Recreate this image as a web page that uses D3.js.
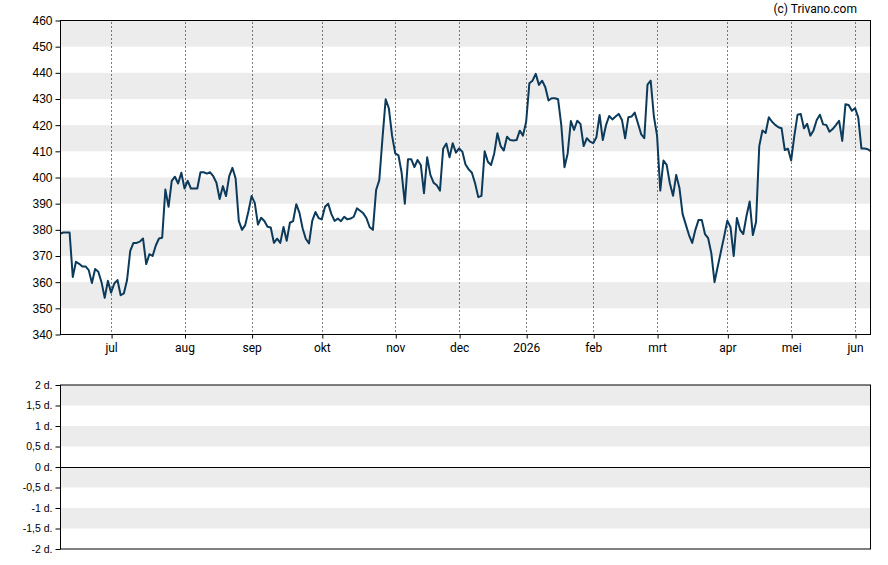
<!DOCTYPE html>
<html><head><meta charset="utf-8">
<script src="https://cdn.jsdelivr.net/npm/d3@7"></script>
<style>body{margin:0;background:#fff}svg{display:block}text{font-family:"Liberation Sans",Arial,sans-serif;fill:#000}</style>
</head><body><svg id="c" width="888" height="565"></svg>
<script>
// daily closes (trading-day index 0..254)
const prices = [
378.5,379,379,379,362,367.8,367,366,366,364.6,359.7,365,364,360,354,360.5,356,359.5,360.8,355,
355.7,360.8,372,375,375,375.5,376.7,366.9,370.7,370,374,376.7,377,395.4,388.8,398.7,400.3,397.7,401.8,395.8,
398.7,395.8,395.8,395.8,402,402,401.5,402,400.5,398,391.8,396.7,392.9,400.5,403.7,399.6,383.4,380,381.8,387,
392.9,390.3,382,384.6,383.4,381.2,380.9,375,376.6,375,381.1,375.8,382.7,383.3,389.8,386.5,380.5,376.5,374.8,383.4,
386.8,384.5,384,388.8,390,386,383.4,384.3,383.3,385,384,384.3,385,388.2,387.3,386.3,384.4,381,380,395.2,
399,415,429.9,426.4,416,409.2,408.5,401.8,390,407,407,404,406.7,404.8,394,407.7,401,398,397,395,
411,413,407.7,413.1,409.5,411.1,409.9,405,403.1,401.8,397.8,392.5,393,410,406,404.8,409.2,416.9,412,410.3,
415.6,414.3,414.1,414.3,417.9,416,421.3,436,437,439.6,435.4,437,434.5,429.4,430.3,430.3,429.9,420,403.9,409.2,
421.6,418.2,421.7,420.5,412,415,413.7,413.1,415.4,423.9,414.3,420,423.5,422.2,423.3,424.3,422,415,423,423.3,
424.8,420.7,416.6,415,435.5,437,423.3,416,395,406.5,404.8,397.8,393,401,396,386,382,378,375,380,
383.8,383.8,378.4,376.8,371,360,366,371.7,377.4,383.5,381,370,384.5,380,378.4,385.3,390.8,378,383,412,
418,417,423,421.3,420.1,419.2,418.8,410.5,411,406.5,416,424,424.3,418.8,420.5,416,418,422,424,420.3,
420.1,417.5,418.5,420,421.7,414,428,427.7,425.5,426.5,423,411.1,411.1,410.8,410
];
const monthLabels = ["jul","aug","sep","okt","nov","dec","2026","feb","mrt","apr","mei","jun"];
const monthStartIdx = [16,39,60,82,105,125,146,167,187,209,229,249];
const priceTicks = [340,350,360,370,380,390,400,410,420,430,440,450,460];
const priceBands = [[450,460],[430,440],[410,420],[390,400],[370,380],[350,360]];
const lowerTicks = [2,1.5,1,0.5,0,-0.5,-1,-1.5,-2];
const lowerBands = [[1.5,2],[0.5,1],[-0.5,0],[-1.5,-1]];
const credit = "(c) Trivano.com";

const svg = d3.select("#c");
const L = 60, R = 871;
const x = d3.scaleLinear().domain([0, prices.length - 1]).range([L, R]);
const y = d3.scaleLinear().domain([340, 460]).range([334.5, 20.5]);
const y2 = d3.scaleLinear().domain([-2, 2]).range([549, 385]);
const band = "#ececec";

// upper panel
svg.append("g").selectAll("rect").data(priceBands).join("rect")
  .attr("x", L).attr("width", R - L)
  .attr("y", d => y(d[1])).attr("height", d => y(d[0]) - y(d[1]))
  .attr("fill", band);

svg.append("g").selectAll("line").data(monthStartIdx).join("line")
  .attr("x1", d => Math.round(x(d)) + 0.5).attr("x2", d => Math.round(x(d)) + 0.5)
  .attr("y1", y(460) + 2).attr("y2", y(340))
  .attr("stroke", "#000").attr("stroke-width", 1).attr("stroke-dasharray", "1,3");

const line = d3.line().x((d, i) => x(i)).y(d => y(d));
svg.append("path").datum(prices).attr("d", line)
  .attr("fill", "none").attr("stroke", "#0c3a5b").attr("stroke-width", 2)
  .attr("stroke-linejoin", "round");

svg.append("rect").attr("x", L + 0.5).attr("y", y(460)).attr("width", R - L - 1)
  .attr("height", y(340) - y(460)).attr("fill", "none").attr("stroke", "#000");

const yAxis = svg.append("g").attr("transform", `translate(${L + 0.5},0)`)
  .call(d3.axisLeft(y).tickValues(priceTicks).tickSize(5).tickPadding(3).tickFormat(d3.format("d")));
yAxis.select(".domain").remove();
yAxis.selectAll("text").style("font-size", "12px");

const xAxis = svg.append("g").attr("transform", `translate(0,${y(340)})`)
  .call(d3.axisBottom(x).tickValues(monthStartIdx).tickSize(4).tickPadding(5)
    .tickFormat((d, i) => monthLabels[i]));
xAxis.select(".domain").remove();
xAxis.selectAll("text").style("font-family", "Roboto, sans-serif").style("font-size", "12px");
xAxis.selectAll("line").attr("transform", "translate(0.5,0)");

// lower panel
svg.append("g").selectAll("rect").data(lowerBands).join("rect")
  .attr("x", L).attr("width", R - L)
  .attr("y", d => y2(d[1])).attr("height", d => y2(d[0]) - y2(d[1]))
  .attr("fill", band);
svg.append("line").attr("x1", L).attr("x2", R).attr("y1", Math.round(y2(0)) + 0.5).attr("y2", Math.round(y2(0)) + 0.5)
  .attr("stroke", "#000");
svg.append("rect").attr("x", L + 0.5).attr("y", y2(2)).attr("width", R - L - 1)
  .attr("height", y2(-2) - y2(2)).attr("fill", "none").attr("stroke", "#000");
const y2Axis = svg.append("g").attr("transform", `translate(${L + 0.5},0)`)
  .call(d3.axisLeft(y2).tickValues(lowerTicks).tickSize(5).tickPadding(3)
    .tickFormat(d => String(d).replace(".", ",") + " d."));
y2Axis.select(".domain").remove();
y2Axis.selectAll("text").style("font-size", "10.5px");

svg.append("text").attr("x", 857).attr("y", 13).attr("text-anchor", "end")
  .style("font-family", "Roboto, sans-serif").style("font-size", "12px").text(credit);
</script></body></html>
